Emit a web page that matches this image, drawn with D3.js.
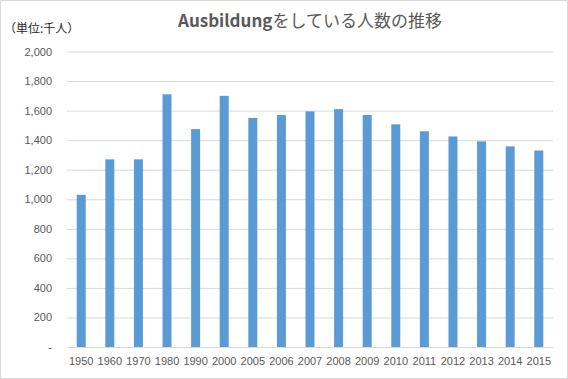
<!DOCTYPE html>
<html><head><meta charset="utf-8">
<script src="https://cdn.jsdelivr.net/npm/d3@7"></script>
<style>
html,body{margin:0;padding:0;background:#fff;}
svg{display:block;}
</style></head>
<body>
<svg id="c" width="568" height="379"></svg>
<script>
const years = ["1950","1960","1970","1980","1990","2000","2005","2006","2007","2008","2009","2010","2011","2012","2013","2014","2015"];
const values = [1030,1270,1270,1710,1475,1700,1550,1570,1595,1610,1570,1507,1460,1425,1392,1358,1330];
const yTicks = [0,200,400,600,800,1000,1200,1400,1600,1800,2000];
const titleLatin = "Ausbildung";
const titleJa = "をしている人数の推移";
const unitLabel = "（単位:千人）";

const W = 568, H = 379;
const m = {left:67, right:15, top:51.5, bottom:32};
const svg = d3.select("#c");
svg.append("rect").attr("x",0.5).attr("y",0.5).attr("width",W-1).attr("height",H-1)
  .attr("fill","#fff").attr("stroke","#d9d9d9");

const x = d3.scaleBand().domain(years).range([m.left, W-m.right]).paddingInner(0.685).paddingOuter(0.34);
const y = d3.scaleLinear().domain([0,2000]).range([H-m.bottom, m.top]);

const font = "'Noto Sans CJK JP', 'Noto Sans', sans-serif";

// gridlines
const yAxis = d3.axisLeft(y).tickValues(yTicks).tickSize(-(W-m.left-m.right)).tickPadding(15)
  .tickFormat(d => d===0 ? "-" : d3.format(",")(d));
const gy = svg.append("g").attr("transform",`translate(${m.left},0)`).call(yAxis);
gy.select(".domain").remove();
gy.selectAll(".tick line").attr("stroke","#d9d9d9").attr("stroke-width",1);
gy.selectAll(".tick text").attr("fill","#595959").style("font-family","'Liberation Sans', Arial, sans-serif").style("font-size","11px");

// bars
svg.append("g").selectAll("rect").data(years).join("rect")
  .attr("x", d => x(d)).attr("width", x.bandwidth())
  .attr("y", (d,i) => y(values[i])).attr("height", (d,i) => y(0)-y(values[i]))
  .attr("fill","#5b9bd5");

// x axis
const xAxis = d3.axisBottom(x).tickSize(0).tickPadding(10);
const gx = svg.append("g").attr("transform",`translate(0,${y(0)})`).call(xAxis);
gx.select(".domain").remove();
gx.selectAll(".tick text").attr("fill","#595959").style("font-family","'Liberation Sans', Arial, sans-serif").style("font-size","11px");

// title
const t = svg.append("text").attr("x", (m.left + W - m.right)/2).attr("y", 27)
  .attr("text-anchor","middle").attr("fill","#595959")
  .style("font-family",font).style("font-size","17px");
t.append("tspan").attr("font-weight","bold").text(titleLatin);
t.append("tspan").text(titleJa);

// unit label
svg.append("text").attr("x", 4).attr("y", 33).attr("fill","#262626")
  .style("font-family",font).style("font-size","12px").text(unitLabel);
</script>
</body></html>
